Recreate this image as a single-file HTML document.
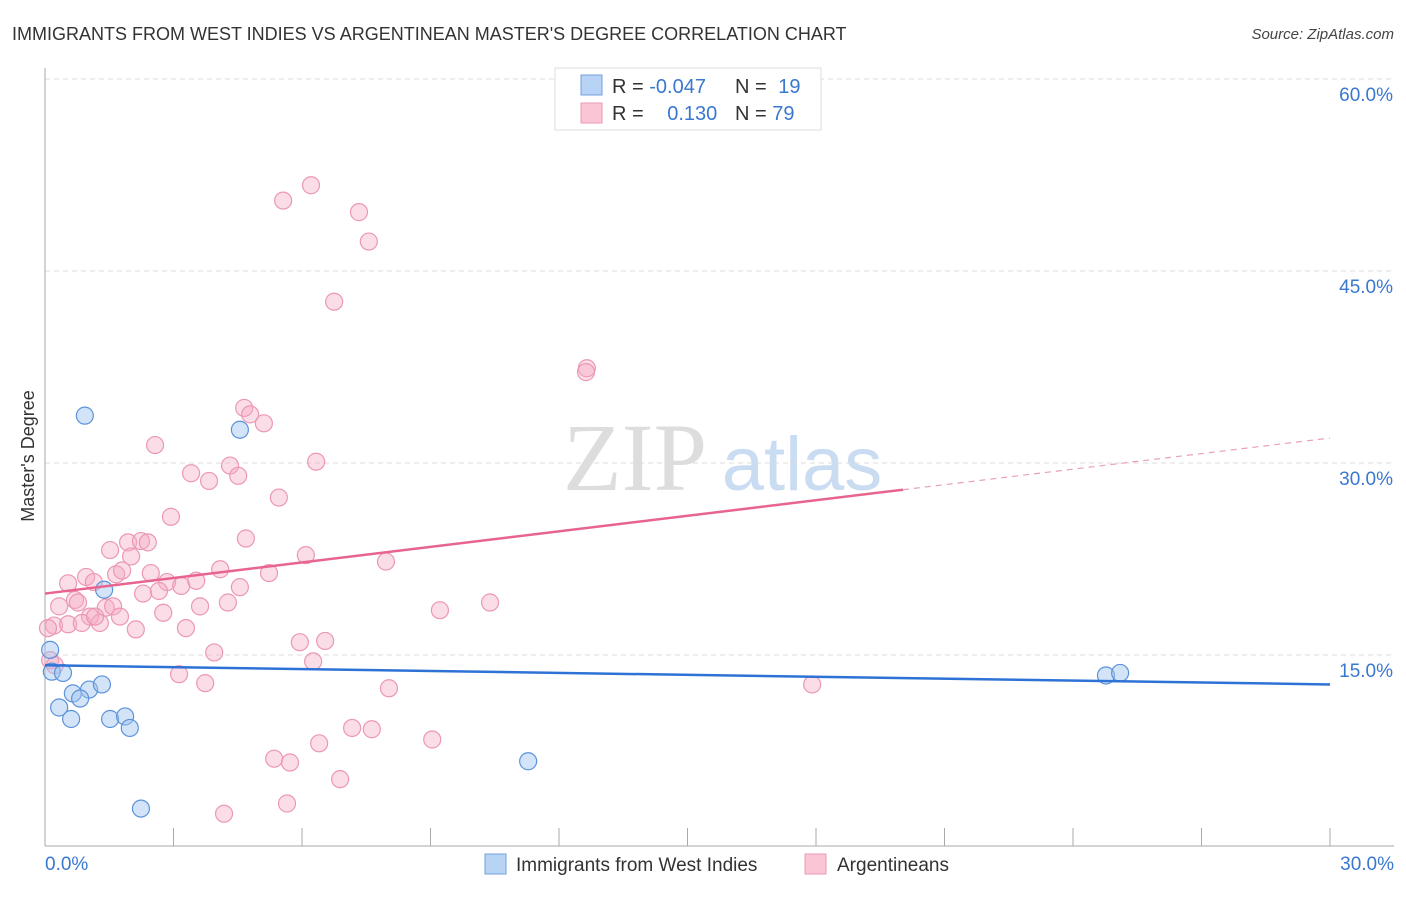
<!DOCTYPE html>
<html><head><meta charset="utf-8"><style>
body{margin:0;background:#fff;font-family:"Liberation Sans",sans-serif;}
</style></head><body>
<svg width="1406" height="892" viewBox="0 0 1406 892" xmlns="http://www.w3.org/2000/svg">
<text x="12" y="40" font-size="18" fill="#333">IMMIGRANTS FROM WEST INDIES VS ARGENTINEAN MASTER'S DEGREE CORRELATION CHART</text>
<text x="1394" y="39" font-size="15" fill="#444" text-anchor="end" font-style="italic">Source: ZipAtlas.com</text>
<g>
<text x="635" y="490" font-size="96" fill="#ddd" font-family="Liberation Serif,serif" text-anchor="middle">ZIP</text>
<text x="802" y="490" font-size="76" fill="#c9dcf2" text-anchor="middle">atlas</text>
</g>
<g id="grid"></g>
<g id="axes"></g>
<g id="marks"></g>
<text transform="translate(34,456) rotate(-90)" font-size="18" fill="#333" text-anchor="middle">Master's Degree</text>
<g>
<rect x="555" y="68" width="266" height="62" fill="#fff" stroke="#ddd"/>
<rect x="581" y="75" width="21" height="20" fill="#b8d3f5" stroke="#6fa0e0"/>
<rect x="581" y="103" width="21" height="20" fill="#fac6d6" stroke="#ec98b2"/>
<text x="612" y="93" font-size="20" fill="#333">R = <tspan fill="#3a78d0">-0.047</tspan></text>
<text x="735" y="93" font-size="20" fill="#333">N = <tspan fill="#3a78d0" dx="6">19</tspan></text>
<text x="612" y="120" font-size="20" fill="#333">R = <tspan fill="#3a78d0" dx="18">0.130</tspan></text>
<text x="735" y="120" font-size="20" fill="#333">N = <tspan fill="#3a78d0">79</tspan></text>
</g>
<g>
<rect x="485" y="854" width="21" height="20" fill="#b8d3f5" stroke="#6fa0e0"/>
<text x="516" y="871" font-size="19" fill="#333">Immigrants from West Indies</text>
<rect x="805" y="854" width="21" height="20" fill="#fac6d6" stroke="#ec98b2"/>
<text x="837" y="871" font-size="19" fill="#333">Argentineans</text>
</g>
</svg>
<script>
const blueX=[0.93,4.55,1.38,0.12,0.16,0.42,0.65,1.03,0.82,1.33,0.33,0.61,1.52,1.87,1.98,2.24,11.28,24.77,25.1];
const blueY=[33.7,32.6,20.1,15.4,13.7,13.6,12.0,12.3,11.6,12.7,10.9,10.0,10.0,10.2,9.3,3.0,6.7,13.4,13.6];
const pinkX=[6.21,5.56,7.33,7.56,6.75,12.65,12.63,4.65,4.79,5.11,2.57,6.33,4.32,3.41,4.51,3.83,5.46,2.94,4.69,1.52,1.94,2.24,2.40,2.01,6.09,7.96,0.54,0.96,1.14,1.66,1.80,2.47,2.85,3.18,3.53,4.09,5.23,4.55,2.29,2.66,0.33,0.70,0.77,1.42,1.59,3.62,4.27,9.22,10.39,1.05,1.28,1.75,2.76,0.21,0.07,0.54,0.86,1.17,2.12,3.29,5.95,6.54,3.95,6.26,0.12,0.23,3.13,3.74,8.03,17.91,7.17,7.63,6.40,9.04,5.35,5.72,6.89,5.65,4.18];
const pinkY=[51.7,50.5,49.6,47.3,42.6,37.4,37.1,34.3,33.8,33.1,31.4,30.1,29.8,29.2,29.0,28.6,27.3,25.8,24.1,23.2,23.8,23.9,23.8,22.7,22.8,22.3,20.6,21.1,20.7,21.3,21.6,21.4,20.7,20.4,20.8,21.7,21.4,20.3,19.8,20.0,18.8,19.3,19.1,18.7,18.8,18.8,19.1,18.5,19.1,18.0,17.5,18.0,18.3,17.3,17.1,17.4,17.5,18.0,17.0,17.1,16.0,16.1,15.2,14.5,14.6,14.2,13.5,12.8,12.4,12.7,9.3,9.2,8.1,8.4,6.9,6.6,5.3,3.4,2.6];
const yTicks=[15,30,45,60];
const yTickLabels=["15.0%","30.0%","45.0%","60.0%"];
const xTicks=[0,3,6,9,12,15,18,21,24,27,30];
const blueTrend=[14.2,12.7];
const pinkTrend=[19.8,31.95];
const pinkSolidEnd=20.03;

const NS="http://www.w3.org/2000/svg";
const sx=v=>45+v*(1285/30);
const sy=v=>847-v*12.8;
function mk(tag,attrs,parent){const e=document.createElementNS(NS,tag);for(const k in attrs)e.setAttribute(k,attrs[k]);parent.appendChild(e);return e;}
const grid=document.getElementById('grid'),axes=document.getElementById('axes'),marks=document.getElementById('marks');
yTicks.forEach((t,i)=>{
 const l=mk('line',{x1:45,x2:1394,y1:sy(t),y2:sy(t),stroke:'#ddd','stroke-dasharray':'5,4'},grid);
 
 
 const tx=mk('text',{x:1393,y:sy(t)+22,'font-size':19,fill:'#3a78d0','text-anchor':'end'},axes);
 tx.textContent=yTickLabels[i];
 
 
});
const ya=mk('line',{x1:45,x2:45,y1:68,y2:846,stroke:'#aaa'},axes);


const xa=mk('line',{x1:45,x2:1394,y1:846,y2:846,stroke:'#aaa'},axes);


xTicks.forEach(t=>{const l=mk('line',{x1:sx(t),x2:sx(t),y1:828,y2:846,stroke:'#aaa'},axes);
 
 });
const xl0=mk('text',{x:45,y:870,'font-size':19,fill:'#3a78d0'},axes);xl0.textContent='0.0%';


const xl1=mk('text',{x:1394,y:870,'font-size':19,fill:'#3a78d0','text-anchor':'end'},axes);xl1.textContent='30.0%';


pinkX.forEach((x,i)=>{const c=mk('circle',{cx:sx(x),cy:sy(pinkY[i]),r:8.5,fill:'rgba(246,170,195,0.4)',stroke:'#ec98b2','stroke-width':1.2},marks);
 
 });
blueX.forEach((x,i)=>{const c=mk('circle',{cx:sx(x),cy:sy(blueY[i]),r:8.5,fill:'rgba(160,195,240,0.45)',stroke:'#5b93db','stroke-width':1.2},marks);
 
 });
const bt=mk('line',{x1:sx(0),y1:sy(blueTrend[0]),x2:sx(30),y2:sy(blueTrend[1]),stroke:'#2f72d6','stroke-width':2.5},marks);


const pm=pinkTrend[0]+(pinkTrend[1]-pinkTrend[0])*pinkSolidEnd/30;
const pt=mk('line',{x1:sx(0),y1:sy(pinkTrend[0]),x2:sx(pinkSolidEnd),y2:sy(pm),stroke:'#e8648f','stroke-width':2.5},marks);


const pd=mk('line',{x1:sx(pinkSolidEnd),y1:sy(pm),x2:sx(30),y2:sy(pinkTrend[1]),stroke:'#e8a0b8','stroke-width':1.2,'stroke-dasharray':'6,5'},marks);


</script>
</body></html>
